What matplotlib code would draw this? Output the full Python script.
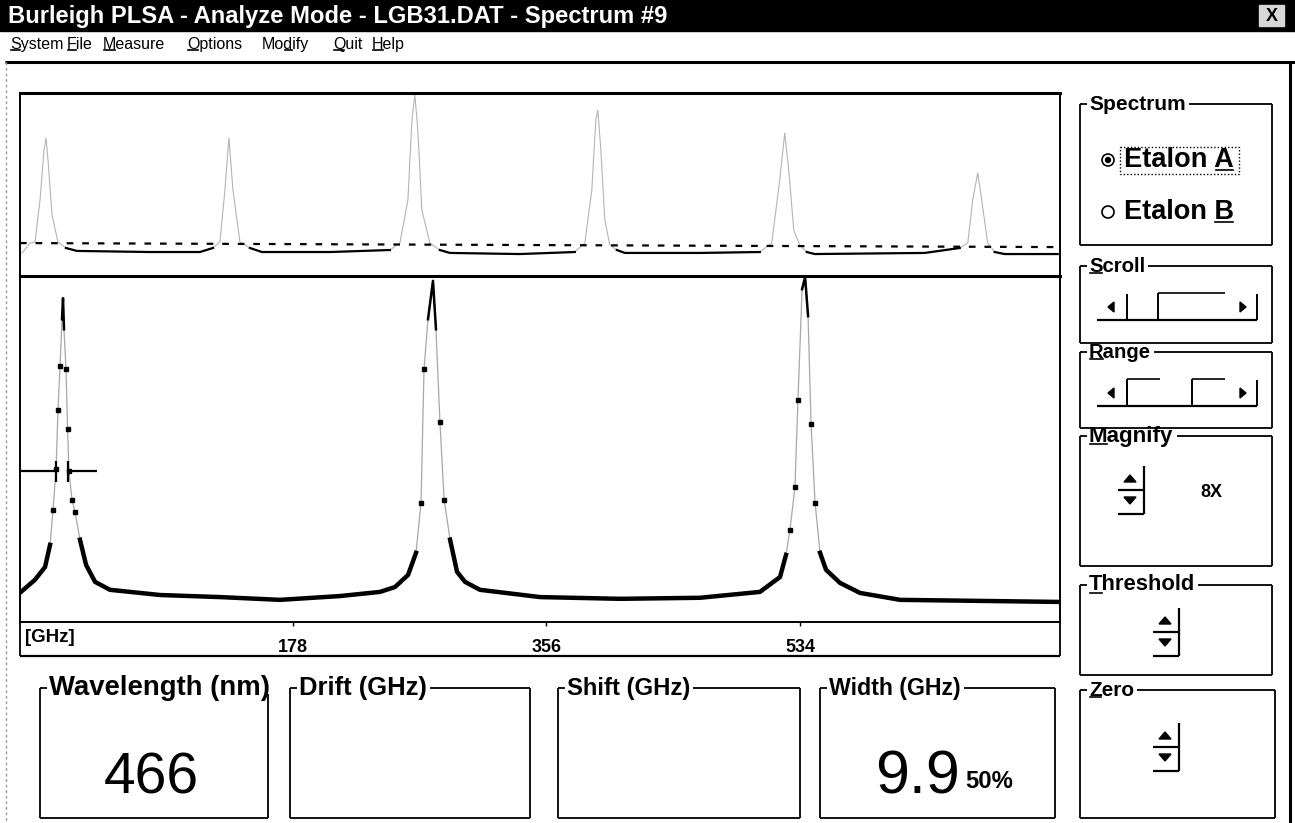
import numpy as np
import matplotlib
matplotlib.use("Agg")
import matplotlib.pyplot as plt
from matplotlib.patches import Rectangle, Polygon, Circle

W, H = 1295, 823

# zoomed etalon A trace (lower panel): frequency [GHz] vs signal [% full scale]
zoom_ghz = [-13.0, -3.2, 3.9, 7.4, 9.5, 11.6, 13.0, 14.4, 15.8, 16.5, 17.2, 18.6,
            19.7, 20.7, 22.8, 24.9, 28.4, 32.7, 39.0, 49.5, 84.6, 126.8, 168.9,
            211.0, 239.1, 249.6, 258.8, 264.4, 267.9, 270.0, 272.8, 276.3, 278.4,
            281.2, 284.1, 288.3, 293.2, 298.8, 309.3, 351.5, 407.7, 463.8, 505.9,
            520.0, 524.2, 527.0, 530.5, 532.6, 535.5, 537.6, 539.7, 541.8, 544.6,
            548.1, 552.3, 562.1, 576.2, 604.3, 660.5, 716.0]
zoom_sig = [8.7, 12.2, 15.9, 22.3, 32.5, 44.1, 61.4, 73.9, 87.5, 93.6, 84.6, 73.0,
            55.7, 43.5, 35.4, 31.9, 23.8, 16.5, 11.6, 9.3, 7.8, 7.2, 6.4,
            7.5, 8.7, 10.1, 13.6, 20.0, 34.5, 73.0, 87.5, 98.6, 84.6,
            57.7, 35.4, 23.8, 14.5, 11.6, 9.3, 7.2, 6.7, 7.0, 8.7,
            13.0, 19.4, 26.7, 39.1, 64.3, 96.2, 99.7, 88.4, 57.1, 34.5,
            20.0, 15.1, 11.3, 8.4, 6.4, 6.1, 5.8]

# overview trace (upper panel)
full_ghz = [2.8, 14.0, 21.0, 28.0, 33.6, 36.4, 39.2, 44.8, 53.1, 64.3, 79.7, 181.8,
            251.7, 269.9, 279.7, 286.7, 292.3, 297.9, 307.7, 321.7, 338.5, 433.6,
            517.5, 531.5, 542.7, 548.3, 552.4, 556.6, 562.2, 573.4, 587.4, 601.4,
            699.3, 776.2, 790.2, 800.0, 805.6, 808.4, 812.6, 818.2, 825.2, 835.0,
            846.2, 951.0, 1035.0, 1051.7, 1062.9, 1069.9, 1075.5, 1082.5, 1090.9,
            1100.7, 1111.9, 1265.7, 1314.7, 1325.9, 1332.9, 1339.9, 1345.5, 1353.8,
            1363.6, 1377.6, 1451.7]
full_sig = [12.6, 18.0, 18.6, 41.5, 68.9, 75.4, 63.4, 33.3, 18.6, 15.3, 13.7, 13.1,
            13.1, 15.3, 18.6, 47.0, 75.4, 47.0, 18.6, 15.3, 13.1, 13.1,
            14.2, 18.0, 41.5, 85.2, 98.9, 79.8, 36.1, 18.0, 14.2, 12.6,
            12.0, 13.1, 18.0, 47.0, 85.2, 90.7, 68.9, 30.6, 16.9, 14.2,
            12.6, 12.6, 13.1, 18.0, 52.5, 78.1, 57.9, 25.1, 16.9,
            13.1, 12.0, 12.6, 15.3, 18.0, 41.5, 56.3, 41.5, 18.0,
            13.1, 12.0, 12.0]
thresh_ghz = [0, 1455]
thresh_sig = [18.0, 15.8]

tick_ghz = [178, 356, 534]
halfmax_sig = 43.5
halfmax_left = [-14, 11.6]
halfmax_right = [20.0, 40.4]

title = "Burleigh PLSA - Analyze Mode - LGB31.DAT - Spectrum #9"
menu = [("System", 0), ("File", 0), ("Measure", 0), ("Options", 0),
        ("Modify", 2), ("Quit", 0), ("Help", 0)]
wavelength = "466"
width_val = "9.9"
width_lvl = "50%"
magnify = "8X"

FONT = "Liberation Sans"

fig = plt.figure(figsize=(W / 100, H / 100), dpi=100)
ui = fig.add_axes([0, 0, 1, 1])
ui.set_xlim(0, W)
ui.set_ylim(H, 0)
ui.axis("off")
R = fig.canvas.get_renderer()


def txt(x, y, s, size, width=None, **kw):
    kw.setdefault("family", FONT)
    kw.setdefault("va", "center")
    kw.setdefault("color", "black")
    t = ui.text(x, y, s, fontsize=size, **kw)
    if width:
        w = t.get_window_extent(R).width
        t.set_fontsize(size * width / w)
    return t


def underline(t, idx):
    s = t.get_text()
    bb = t.get_window_extent(R)
    tmp = ui.text(0, 0, s[:idx] if idx else "", fontproperties=t.get_fontproperties())
    x0 = bb.x0 + (tmp.get_window_extent(R).width if idx else 0)
    tmp.set_text(s[:idx + 1])
    x1 = bb.x0 + tmp.get_window_extent(R).width
    tmp.remove()
    size = t.get_fontsize() * 100 / 72
    y = H - (bb.y0 + 0.12 * size)
    ui.plot([x0 + 1, x1 - 1], [y, y], color="black", lw=1.2)


def line(xs, ys, lw=1.3, **kw):
    kw.setdefault("color", "black")
    ui.plot(xs, ys, lw=lw, solid_capstyle="butt", **kw)


def group(x0, y0, x1, y1, label, size, width=None, key=None):
    t = txt(x0 + 9, y0, label, size, width, weight="bold")
    tw = t.get_window_extent(R).width
    line([x0, x0 + 7], [y0, y0])
    if x0 + 12 + tw < x1:
        line([x0 + 12 + tw, x1], [y0, y0])
    line([x0, x0], [y0, y1])
    line([x1, x1], [y0 + (0 if x0 + 12 + tw < x1 else 6), y1])
    line([x0, x1], [y1, y1])
    if key is not None:
        underline(t, key)
    return t


def spinner(x, y):
    ui.add_patch(Polygon([[x - 6, y - 8], [x + 6, y - 8], [x, y - 15]], color="black"))
    ui.add_patch(Polygon([[x - 6, y + 7], [x + 6, y + 7], [x, y + 14]], color="black"))
    line([x - 12, x + 14], [y, y], lw=1.6)
    line([x + 14, x + 14], [y - 24, y + 24], lw=1.6)
    line([x - 12, x + 14], [y + 24, y + 24], lw=1.6)


def scrollbar(y, thumbs):
    line([1097, 1257], [y, y], lw=1.6)
    ui.add_patch(Polygon([[1108, y - 13], [1114, y - 18], [1114, y - 8]], color="black"))
    ui.add_patch(Polygon([[1246, y - 13], [1240, y - 18], [1240, y - 8]], color="black"))
    line([1127, 1127], [y - 26, y], lw=1.4)
    line([1257, 1257], [y - 26, y], lw=1.4)
    for a, b in thumbs:
        line([a, a], [y - 27, y], lw=1.4)
        line([a, b], [y - 27, y - 27], lw=1.2)


# window chrome
ui.add_patch(Rectangle((0, 0), W, 31, color="black"))
txt(8, 16, title, 14, 660, weight="bold", color="white")
ui.add_patch(Rectangle((1259, 5), 25, 21, facecolor="#d8d8d8", edgecolor="#d8d8d8"))
txt(1271.5, 16, "X", 13, weight="bold", ha="center")
xpos = [10, 67, 103, 187, 262, 333, 372]
for (name, k), x in zip(menu, xpos):
    t = txt(x, 44, name, 11.5)
    underline(t, k)
line([5, W], [62, 62], lw=2.2)
line([6, 6], [62, H], lw=1, color="#9a9a9a", linestyle=(0, (2, 2)))
line([1290, 1290], [62, H], lw=2.2)

# spectrum panels
px = lambda x0, y0, x1, y1: [x0 / W, 1 - y1 / H, (x1 - x0) / W, (y1 - y0) / H]
top = fig.add_axes(px(20, 93, 1060, 276))
low = fig.add_axes(px(20, 276, 1060, 622))

fg = np.array(full_ghz)
fs = np.array(full_sig)
top.plot(fg, fs, color="#b4b4b4", lw=0.8)
top.plot(fg, np.ma.masked_where(fs > 16.5, fs), color="black", lw=1.6)
top.plot(thresh_ghz, thresh_sig, color="black", lw=1.6, linestyle=(0, (3, 4)))
top.set_xlim(0, 1455)
top.set_ylim(0, 100)

zg = np.array(zoom_ghz)
zs = np.array(zoom_sig)
low.plot(zg, zs, color="#a8a8a8", lw=0.9)
low.plot(zg, np.ma.masked_where(zs > 24, zs), color="black", lw=3.2)
flank = (zs > 24) & (zs < 80)
low.plot(zg[flank], zs[flank], "s", ms=2.6, color="black")
low.plot(zg, np.ma.masked_where(zs < 80, zs), color="black", lw=1.8)
low.hlines(halfmax_sig, *halfmax_left, color="black", lw=1.6)
low.hlines(halfmax_sig, *halfmax_right, color="black", lw=1.6)
low.vlines([halfmax_left[1], halfmax_right[0]], halfmax_sig - 3, halfmax_sig + 3,
           color="black", lw=1.6)
low.set_xlim(-13.7, 716.6)
low.set_ylim(0, 100)
low.set_xticks(tick_ghz)
low.set_xticklabels([str(t) for t in tick_ghz], fontsize=13, weight="bold",
                    family=FONT)
low.tick_params(axis="x", direction="out", length=3, width=1, pad=9)
low.set_yticks([])

for a in (top, low):
    a.patch.set_alpha(0)
    for s in a.spines.values():
        s.set_linewidth(1.4)
top.set_xticks([])
top.set_yticks([])
top.spines["top"].set_linewidth(2.2)
top.spines["bottom"].set_linewidth(2.2)

# frequency strip
line([20, 20], [622, 656])
line([1060, 1060], [622, 656])
line([20, 1060], [656, 656], lw=1.6)
txt(25, 637, "[GHz]", 13, 50, weight="bold")

# right-hand controls
group(1080, 104, 1272, 245, "Spectrum", 14, 97)
ui.add_patch(Circle((1108, 160), 6, facecolor="white", edgecolor="black", lw=1.2))
ui.add_patch(Circle((1108, 160), 2.5, color="black"))
ui.add_patch(Circle((1108, 212), 6, facecolor="white", edgecolor="black", lw=1.2))
ta = txt(1124, 160, "Etalon A", 14, 110, weight="bold")
underline(ta, 7)
tb = txt(1124, 212, "Etalon B", 14, 110, weight="bold")
underline(tb, 7)
ui.add_patch(Rectangle((1120, 147), 119, 27, fill=False, edgecolor="black",
                       lw=1, linestyle=(0, (1, 1.5))))

group(1080, 266, 1272, 343, "Scroll", 14, 57, 0)
scrollbar(320, [(1158, 1225)])
group(1080, 352, 1272, 428, "Range", 14, 62, 0)
scrollbar(406, [(1127, 1160), (1192, 1225)])
group(1080, 436, 1272, 566, "Magnify", 14, 85, 0)
spinner(1130, 490)
txt(1200, 492, magnify, 13, weight="bold")
group(1080, 585, 1272, 675, "Threshold", 14, 107, 0)
spinner(1165, 632)
group(1080, 690, 1275, 818, "Zero", 14, 45, 0)
spinner(1165, 747)

# readout boxes
group(40, 688, 268, 818, "Wavelength (nm)", 16, 220)
group(290, 688, 530, 818, "Drift (GHz)", 16, 128)
group(558, 688, 800, 818, "Shift (GHz)", 16, 123)
group(820, 688, 1055, 818, "Width (GHz)", 16, 132)
txt(151, 778, wavelength, 32, 95, ha="center")
txt(917, 778, width_val, 32, 85, ha="center")
txt(965, 781, width_lvl, 10, 48, weight="bold")

fig.savefig("out.png", dpi=100)
